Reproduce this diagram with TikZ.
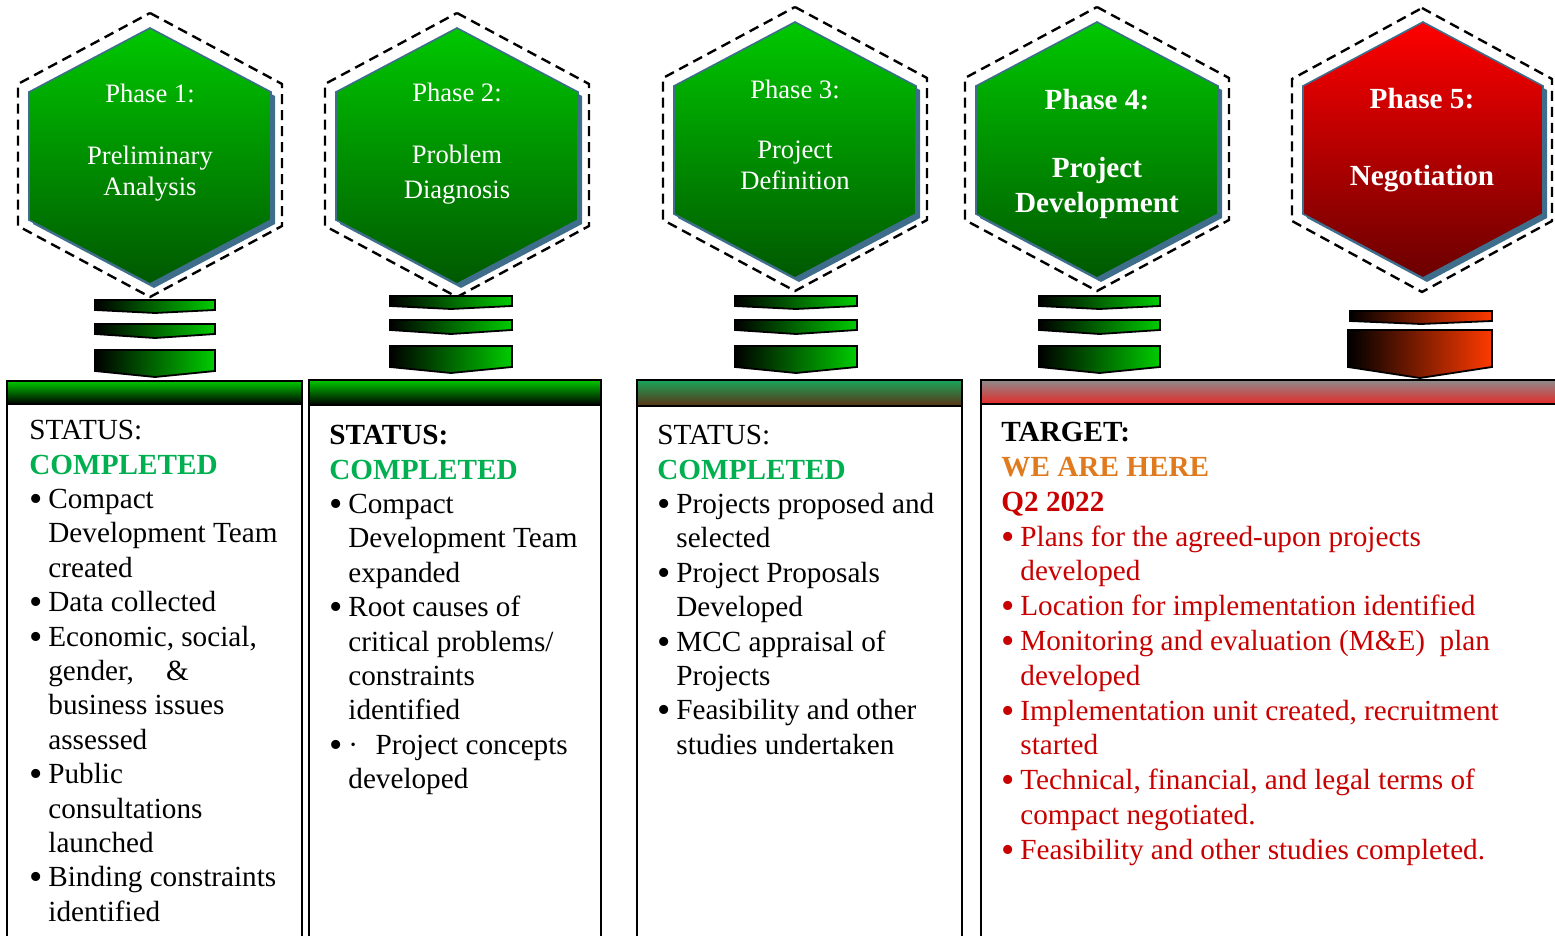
\documentclass[tikz,border=0pt]{standalone}
\usepackage{fontspec}
\setmainfont{Liberation Serif}
\usepackage{tikz}

\definecolor{hexgreen}{HTML}{00C800}
\definecolor{hexdark}{HTML}{005800}
\definecolor{hexred}{HTML}{FF0000}
\definecolor{hexmaroon}{HTML}{6A0000}
\definecolor{hexshadow}{HTML}{3F6E8C}
\definecolor{bargreen}{HTML}{00CC00}
\definecolor{barorange}{HTML}{FF3A00}
\definecolor{donegreen}{HTML}{00B050}
\definecolor{herecol}{HTML}{E07A1E}
\definecolor{targetred}{HTML}{C80000}
\definecolor{hdrteal}{HTML}{1AA55A}
\definecolor{hdrbrown}{HTML}{5A3216}
\definecolor{hdrgray}{HTML}{8C8C8C}
\definecolor{hdrred}{HTML}{E62828}

% hexagon: centre x, centre y, half width, half height
\newcommand{\hexpath}[4]{(#1,#2-#4) -- (#1+#3,#2-#4/2) -- (#1+#3,#2+#4/2) -- (#1,#2+#4) -- (#1-#3,#2+#4/2) -- (#1-#3,#2-#4/2) -- cycle}
% bar with a pointed bottom: left, right, top, side bottom, point
\newcommand{\chevron}[5]{(#1,#3) -- (#2,#3) -- (#2,#4) -- ({(#1+#2)/2},#5) -- (#1,#4) -- cycle}
\newcommand{\bl}{\makebox[9.5pt][l]{\raisebox{-1.5pt}{\scalebox{1.3}{\textbullet}}}}
\newcommand{\ind}{\hspace*{9.5pt}}
\newcommand{\done}[1]{\textcolor{donegreen}{\textbf{#1}}}

\tikzset{
  hexline/.style={draw=black, line width=1.2pt, dash pattern=on 5pt off 3pt},
  greenhex/.style={top color=hexgreen, bottom color=hexdark, draw=hexshadow, line width=0.8pt},
  redhex/.style={top color=hexred, bottom color=hexmaroon, draw=hexshadow, line width=0.8pt},
  greenbar/.style={left color=black, right color=bargreen, draw=black, line width=0.9pt},
  redbar/.style={left color=black, right color=barorange, draw=black, line width=0.9pt},
  phasetext/.style={text=white, align=center, inner sep=0pt},
  boxline/.style={draw=black, line width=1.3pt},
  boxtext/.style={align=left, inner sep=0pt, anchor=north west, font=\fontsize{14.6}{17.2}\selectfont}
}

\begin{document}
\begin{tikzpicture}[x=0.5pt, y=-0.5pt]
  \useasboundingbox (0,0) rectangle (1555,936);

  % Green phase hexagons
  \foreach \cx/\cy in {150/156, 457/156, 795/150, 1097/150} {
    \fill[hexshadow] \hexpath{\cx+4}{\cy+4}{121}{128};
    \shadedraw[greenhex] \hexpath{\cx}{\cy}{121}{128};
    \draw[hexline] \hexpath{\cx}{\cy-1}{132}{142};
  }

  % Red phase hexagon
  \fill[hexshadow] \hexpath{1427}{154}{120}{128};
  \shadedraw[redhex] \hexpath{1423}{150}{120}{128};
  \draw[hexline] \hexpath{1422}{150}{130}{142};

  % Phase labels
  \node[phasetext, font=\fontsize{13.3}{15.5}\selectfont] (ph1) at (150,142.5) {Phase 1:\\[15.5pt]Preliminary\\Analysis};
  \node[phasetext, font=\fontsize{13.3}{17.5}\selectfont] (ph2) at (457,144) {Phase 2:\\[13.5pt]Problem\\Diagnosis};
  \node[phasetext, font=\fontsize{13.3}{15.5}\selectfont] (ph3) at (795,134.5) {Phase 3:\\[14.5pt]Project\\Definition};
  \node[phasetext, font=\bfseries\fontsize{14.6}{17.5}\selectfont] (ph4) at (1097,154) {Phase 4:\\[16.5pt]Project\\Development};
  \node[phasetext, font=\bfseries\fontsize{14.6}{17.5}\selectfont] (ph5) at (1422,140.5) {Phase 5:\\[21pt]Negotiation};

  % Bars below the green hexagons
  \foreach \xa/\xb/\dy in {95/215/4, 390/512/0, 735/857/0, 1039/1160/0} {
    \shadedraw[greenbar] \chevron{\xa}{\xb}{296+\dy}{306+\dy}{309+\dy};
    \shadedraw[greenbar] \chevron{\xa}{\xb}{320+\dy}{330+\dy}{334+\dy};
    \shadedraw[greenbar] \chevron{\xa}{\xb}{346+\dy}{367+\dy}{373+\dy};
  }

  % Bars below the red hexagon
  \shadedraw[redbar] \chevron{1350}{1492}{311}{321}{324};
  \shadedraw[redbar] \chevron{1348}{1492}{330}{367}{378};

  % Status boxes
  \begin{scope}
    \clip (0,0) rectangle (1555,936);
    \draw[boxline] (7,381) rectangle (302,960);
    \shadedraw[boxline, top color=hexgreen, middle color=hexgreen, bottom color=black] (7,381) rectangle (302,404);
    \draw[boxline] (309,380) rectangle (601,960);
    \shadedraw[boxline, top color=hexgreen, middle color=hexgreen, bottom color=black] (309,380) rectangle (601,405);
    \draw[boxline] (637,380) rectangle (962,960);
    \shadedraw[boxline, top color=hdrteal, middle color=hdrteal!85!black, bottom color=hdrbrown] (637,380) rectangle (962,406);
    \draw[boxline] (981,380) rectangle (1575,960);
    \shadedraw[boxline, top color=hdrgray, middle color=hdrgray!60!hdrred, bottom color=hdrred] (981,380) rectangle (1575,404);
  \end{scope}

  % Box texts
  \node[boxtext] (st1) at (29,420) {STATUS:\\
    \done{COMPLETED}\\
    \bl Compact\\
    \ind Development Team\\
    \ind created\\
    \bl Data collected\\
    \bl Economic, social,\\
    \ind gender,\hspace{1.1em}\&\\
    \ind business issues\\
    \ind assessed\\
    \bl Public\\
    \ind consultations\\
    \ind launched\\
    \bl Binding constraints\\
    \ind identified};

  \node[boxtext] (st2) at (329,425) {\textbf{STATUS:}\\
    \done{COMPLETED}\\
    \bl Compact\\
    \ind Development Team\\
    \ind expanded\\
    \bl Root causes of\\
    \ind critical problems/\\
    \ind constraints\\
    \ind identified\\
    \bl ·\hspace{0.6em}Project concepts\\
    \ind developed};

  \node[boxtext] (st3) at (657,425) {STATUS:\\
    \done{COMPLETED}\\
    \bl Projects proposed and\\
    \ind selected\\
    \bl Project Proposals\\
    \ind Developed\\
    \bl MCC appraisal of\\
    \ind Projects\\
    \bl Feasibility and other\\
    \ind studies undertaken};

  \node[boxtext, text=targetred, font=\fontsize{14.6}{17.4}\selectfont] (tg4) at (1001,422) {\textcolor{black}{\textbf{TARGET:}}\\
    \textcolor{herecol}{\textbf{WE ARE HERE}}\\
    \textbf{Q2 2022}\\
    \bl Plans for the agreed-upon projects\\
    \ind developed\\
    \bl Location for implementation identified\\
    \bl Monitoring and evaluation (M\&E)\ \ plan\\
    \ind developed\\
    \bl Implementation unit created, recruitment\\
    \ind started\\
    \bl Technical, financial, and legal terms of\\
    \ind compact negotiated.\\
    \bl Feasibility and other studies completed.};

\end{tikzpicture}
\end{document}
